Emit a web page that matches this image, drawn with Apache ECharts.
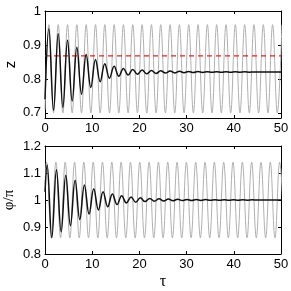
<!DOCTYPE html>
<html><head><meta charset="utf-8">
<script src="https://cdn.jsdelivr.net/npm/echarts@6/dist/echarts.min.js"></script>
<style>html,body{margin:0;padding:0;background:#fff}#c{width:291px;height:291px}</style>
</head><body><div id="c"></div>
<script>
// ---- data ----
const tauTicks = [0, 10, 20, 30, 40, 50];
const zTicks = [0.7, 0.8, 0.9, 1];
const phiTicks = [0.8, 0.9, 1, 1.1, 1.2];
const redLevel = 0.868;

// gray (undamped) z: start + alternating peaks / troughs
const grayZ = [[0,0.71],[0.82,0.96],[1.81,0.70],[2.80,0.96],[3.79,0.70],[4.77,0.96],[5.76,0.70],[6.75,0.96],[7.74,0.70],
 [8.72,0.96],[9.71,0.70],[10.70,0.96],[11.69,0.70],[12.67,0.96],[13.66,0.70],[14.65,0.96],[15.64,0.70],[16.62,0.96],
 [17.61,0.70],[18.60,0.96],[19.59,0.70],[20.57,0.96],[21.56,0.70],[22.55,0.96],[23.54,0.70],[24.52,0.96],[25.51,0.70],
 [26.50,0.96],[27.49,0.70],[28.47,0.96],[29.46,0.70],[30.45,0.96],[31.44,0.70],[32.42,0.96],[33.41,0.70],[34.40,0.96],
 [35.39,0.70],[36.37,0.96],[37.36,0.70],[38.35,0.96],[39.34,0.70],[40.32,0.96],[41.31,0.70],[42.30,0.96],[43.29,0.70],
 [44.27,0.96],[45.26,0.70],[46.25,0.96],[47.24,0.70],[48.22,0.96],[49.21,0.70],[50.20,0.96]];

// black (damped) z
const blackZ = [[0,0.74],[0.82,0.948],[1.81,0.708],[2.80,0.933],[3.79,0.716],[4.77,0.914],[5.76,0.735],[6.75,0.893],
 [7.74,0.755],[8.72,0.872],[9.71,0.775],[10.70,0.857],[11.69,0.792],[12.67,0.845],[13.66,0.802],[14.65,0.837],
 [15.64,0.808],[16.62,0.831],[17.61,0.8115],[18.60,0.828],[19.59,0.8135],[20.57,0.8265],[21.56,0.815],[22.55,0.825],
 [23.54,0.8163],[24.52,0.824],[25.51,0.8172],[26.50,0.8232],[27.49,0.8178],[28.47,0.8226],[29.46,0.8184],[30.45,0.8222],
 [31.44,0.8188],[32.42,0.8218],[33.41,0.8191],[34.40,0.8215],[35.39,0.8194],[36.37,0.8213],[37.36,0.8196],[38.35,0.8211],
 [39.34,0.8198],[40.32,0.8209],[41.31,0.8199],[42.30,0.8208],[43.29,0.82],[44.27,0.8207],[45.26,0.8201],[46.25,0.8206],
 [47.24,0.8202],[48.22,0.8205],[49.21,0.8203],[50,0.8204]];

// gray (undamped) phi/pi
const grayPhi = [[0,1.06],[0.33,1.14],[1.32,0.86],[2.31,1.14],[3.30,0.86],[4.28,1.14],[5.27,0.86],[6.26,1.14],[7.25,0.86],
 [8.23,1.14],[9.22,0.86],[10.21,1.14],[11.20,0.86],[12.18,1.14],[13.17,0.86],[14.16,1.14],[15.15,0.86],[16.13,1.14],
 [17.12,0.86],[18.11,1.14],[19.10,0.86],[20.08,1.14],[21.07,0.86],[22.06,1.14],[23.05,0.86],[24.03,1.14],[25.02,0.86],
 [26.01,1.14],[27.00,0.86],[27.98,1.14],[28.97,0.86],[29.96,1.14],[30.95,0.86],[31.93,1.14],[32.92,0.86],[33.91,1.14],
 [34.90,0.86],[35.88,1.14],[36.87,0.86],[37.86,1.14],[38.85,0.86],[39.83,1.14],[40.82,0.86],[41.81,1.14],[42.80,0.86],
 [43.78,1.14],[44.77,0.86],[45.76,1.14],[46.75,0.86],[47.73,1.14],[48.72,0.86],[49.71,1.14],[50.70,0.86]];

// black (damped) phi/pi
const blackPhi = [[0,1.03],[0.45,1.13],[1.44,0.86],[2.43,1.112],[3.42,0.882],[4.40,1.092],[5.39,0.905],[6.38,1.073],
 [7.37,0.928],[8.35,1.056],[9.34,0.948],[10.33,1.042],[11.32,0.963],[12.30,1.031],[13.29,0.975],[14.28,1.022],
 [15.27,0.983],[16.25,1.016],[17.24,0.989],[18.23,1.011],[19.22,0.992],[20.20,1.008],[21.19,0.994],[22.18,1.006],
 [23.17,0.9955],[24.15,1.0045],[25.14,0.9965],[26.13,1.0035],[27.12,0.9972],[28.10,1.0028],[29.09,0.9978],[30.08,1.0022],
 [31.07,0.9982],[32.05,1.0018],[33.04,0.9985],[34.03,1.0015],[35.02,0.9988],[36.00,1.0012],[36.99,0.999],[37.98,1.001],
 [38.97,0.9992],[39.95,1.0008],[40.94,0.9994],[41.93,1.0006],[42.92,0.9995],[43.90,1.0005],[44.89,0.9996],[45.88,1.0004],
 [46.87,0.9997],[47.85,1.0003],[48.84,0.9997],[50,1.0]];

// ---- chart ----
const chart = echarts.init(document.getElementById('c'), null, {renderer:'canvas'});
const FONT = 'Liberation Sans';
const SERIF = 'Liberation Serif';
const axisLine = {show:true, onZero:false, lineStyle:{color:'#000', width:1}};
function xAx(grid, top, extra){
  return Object.assign({type:'value', gridIndex:grid, position: top?'top':'bottom', min:0, max:50, interval:10,
    axisLine, axisTick:{show:true, inside:true, length:3, lineStyle:{color:'#000'}, customValues:tauTicks},
    axisLabel:{show:!top, color:'#000', fontFamily:FONT, fontSize:13, margin:4, customValues:tauTicks},
    splitLine:{show:false}}, extra||{});
}
function yAx(grid, right, mn, mx, ticks, extra){
  return Object.assign({type:'value', gridIndex:grid, position: right?'right':'left', min:mn, max:mx,
    axisLine, axisTick:{show:true, inside:true, length:3, lineStyle:{color:'#000'}, customValues:ticks},
    axisLabel:{show:!right, color:'#000', fontFamily:FONT, fontSize:13, margin:4, customValues:ticks},
    splitLine:{show:false}}, extra||{});
}
const lineS = (xi, yi, data, color, w, z, extra) => Object.assign({type:'line', xAxisIndex:xi, yAxisIndex:yi, data,
  showSymbol:false, smooth:0.4, lineStyle:{color, width:w}, z, animation:false, silent:true}, extra||{});

chart.setOption({
  animation:false,
  grid:[{left:45, right:10, top:11, height:107, containLabel:false, outerBoundsMode:'none'},
        {left:45, right:10, top:146, height:108, containLabel:false, outerBoundsMode:'none'}],
  xAxis:[ xAx(0,false), xAx(0,true),
    xAx(1,false,{name:'τ', nameLocation:'middle', nameGap:20, nameMoveOverlap:false, nameTextStyle:{color:'#000', fontFamily:SERIF, fontSize:16}}),
    xAx(1,true) ],
  yAxis:[ yAx(0,false,0.685,1,zTicks,{name:'z', nameLocation:'middle', nameGap:27, nameMoveOverlap:false, nameTextStyle:{color:'#000', fontFamily:FONT, fontSize:15}}),
    yAx(0,true,0.685,1,zTicks),
    yAx(1,false,0.8,1.2,phiTicks,{name:'φ/π', nameLocation:'middle', nameGap:28, nameMoveOverlap:false, nameTextStyle:{color:'#000', fontFamily:SERIF, fontSize:15}}),
    yAx(1,true,0.8,1.2,phiTicks) ],
  series:[
    lineS(0,0,grayZ,'#b0b0b0',1,1),
    lineS(0,0,[[0,redLevel],[50,redLevel]],'#e02424',1,2,{smooth:false, lineStyle:{color:'#e02424', width:1.2, type:[5,4]}}),
    lineS(0,0,blackZ,'#111111',1.5,3),
    lineS(2,2,grayPhi,'#b0b0b0',1,1),
    lineS(2,2,blackPhi,'#111111',1.5,3)
  ]
});
</script></body></html>
